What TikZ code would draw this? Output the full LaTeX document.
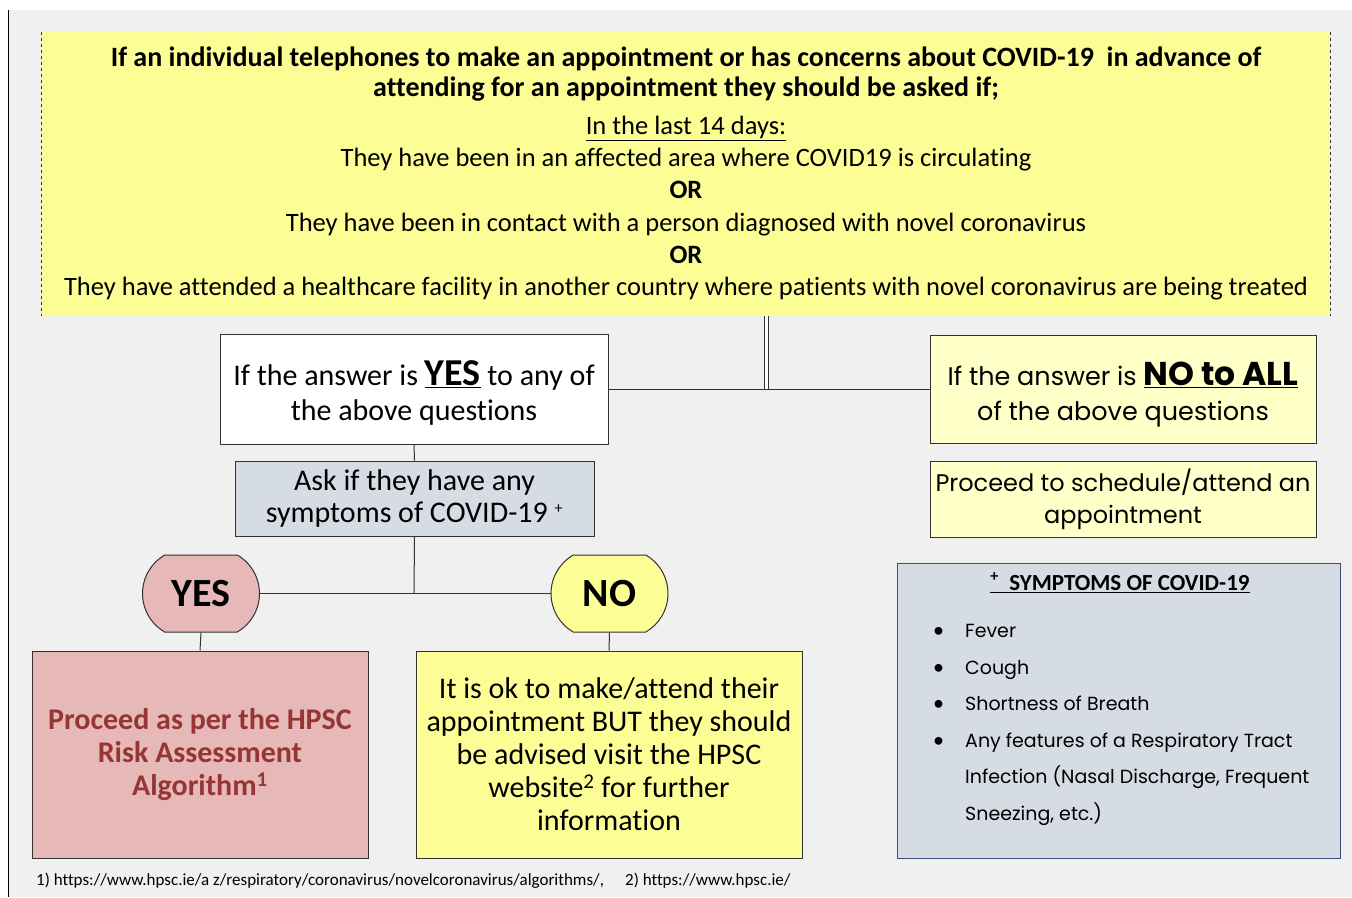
\documentclass[tikz,border=0pt]{standalone}
\usepackage{fontspec}
\setmainfont{Carlito}[Ligatures=NoCommon]
\newfontfamily\gothic{Poppins}
\usetikzlibrary{positioning, shapes.misc}

\definecolor{bggray}{RGB}{240,240,240}
\definecolor{qyellow}{RGB}{253,253,150}
\definecolor{paleyellow}{RGB}{255,255,200}
\definecolor{rosepink}{RGB}{230,184,183}
\definecolor{greyblue}{RGB}{214,220,228}
\definecolor{darkred}{RGB}{150,54,52}
\definecolor{framegray}{RGB}{50,50,50}
\definecolor{frameblue}{RGB}{60,80,120}

\tikzset{
  box/.style={draw=framegray, line width=1pt, align=center, inner sep=2pt},
  answerbox/.style={box, minimum width=388, minimum height=110},
  oval/.style={box, rounded rectangle, rounded rectangle arc length=120,
    minimum width=121, minimum height=77, font=\fontsize{40}{40}\selectfont\bfseries},
  resultbox/.style={box, minimum height=207, font=\fontsize{30}{33}\selectfont},
  link/.style={draw=framegray, line width=1pt},
}
\newcommand{\dotitem}{\makebox[32pt][l]{\normalfont\fontsize{22}{22}\selectfont\textbullet}}

\begin{document}
\begin{tikzpicture}[x=1pt, y=-1pt]
  % background
  \fill[white] (0,0) rectangle (1352,897);
  \fill[bggray] (8,10) rectangle (1352,897);
  \draw[line width=1pt] (8,10) -- (8,897);

  % question box
  \node[box, draw=none, fill=qyellow, minimum width=1288, minimum height=283] (ask0) at (686,173.5) {};
  \draw[framegray, dashed, line width=0.8pt] (ask0.north west) -- (ask0.south west);
  \draw[framegray, dashed, line width=0.8pt] (ask0.north east) -- (ask0.south east);
  \node[align=center, inner sep=0pt, font=\fontsize{28}{30}\selectfont\bfseries] (asktitle) at (686,74) {%
    If an individual telephones to make an appointment or has concerns about COVID-19\ \ in advance of\\
    attending for an appointment they should be asked if;};
  \node[align=center, inner sep=0pt, font=\fontsize{26.5}{32.2}\selectfont] (asklist) at (686,208) {%
    \underline{In the last 14 days:}\\
    They have been in an affected area where COVID19 is circulating\\
    \textbf{OR}\\
    They have been in contact with a person diagnosed with novel coronavirus\\
    \textbf{OR}\\
    They have attended a healthcare facility in another country where patients with novel coronavirus are being treated};

  % answers
  \node[answerbox, fill=white, font=\fontsize{30}{35}\selectfont] (yesq) at (414,389) {%
    \rule{0pt}{33pt}If the answer is \underline{\fontsize{38}{38}\selectfont\bfseries YES} to any of\\
    the above questions};
  \node[answerbox, fill=paleyellow, minimum width=386, minimum height=108, font=\gothic\fontsize{25.5}{35}\selectfont] (noq) at (1123,389) {%
    \rule{0pt}{35pt}If the answer is \underline{\fontsize{33}{33}\selectfont\bfseries NO to ALL}\\
    of the above questions};
  \node[box, fill=paleyellow, minimum width=386, minimum height=76, font=\gothic\fontsize{24}{32}\selectfont] (sched) at (1123,499) {%
    Proceed to schedule/attend an\\
    appointment};
  \coordinate (split) at (766,389);
  \draw[link, double, double distance=3pt] (ask0.south -| split) -- (split);
  \draw[link] (yesq.east) -- (noq.west);

  % symptoms check
  \node[box, fill=greyblue, minimum width=359, minimum height=75, font=\fontsize{30}{32}\selectfont] (symq) at (414.5,498.5) {%
    Ask if they have any\\
    symptoms of COVID-19 \textsuperscript{\fontsize{16}{16}\selectfont +}};
  \draw[link] (yesq.south) -- (symq.north);

  \node[oval, fill=rosepink] (yes) at (201,593.5) {YES};
  \node[oval, fill=qyellow] (no) at (609.5,593.5) {NO};
  \coordinate (fork) at (414,593.5);
  \draw[link] (symq.south) -- (fork);
  \draw[link] (yes.east) -- (no.west);

  % outcomes
  \node[resultbox, fill=rosepink, minimum width=336, text=darkred, font=\fontsize{30}{33}\selectfont\bfseries] (risk) at (200,754.5) {%
    Proceed as per the HPSC\\
    Risk Assessment\\
    Algorithm\textsuperscript{1}};
  \node[resultbox, fill=qyellow, minimum width=386] (okay) at (609,754.5) {%
    It is ok to make/attend their\\
    appointment BUT they should\\
    be advised visit the HPSC\\
    website\textsuperscript{2} for further\\
    information};
  \draw[link] (yes.south) -- (risk.north);
  \draw[link] (no.south) -- (okay.north);

  % symptom list
  \node[box, draw=frameblue, fill=greyblue, minimum width=443, minimum height=295] (list) at (1118.5,710.5) {};
  \node[font=\fontsize{23}{23}\selectfont\bfseries] (listhead) at (1120,583) {\underline{\textsuperscript{+}\ \ SYMPTOMS OF COVID-19}};
  \node[anchor=north west, align=left, inner sep=0pt, font=\gothic\fontsize{19}{36.6}\selectfont] (items) at (933,624) {%
    \dotitem Fever\\
    \dotitem Cough\\
    \dotitem Shortness of Breath\\
    \dotitem Any features of a Respiratory Tract\\
    \hspace*{32pt}Infection (Nasal Discharge, Frequent\\
    \hspace*{32pt}Sneezing, etc.)};

  % footnotes
  \node[anchor=west, inner sep=0pt, font=\fontsize{17}{17}\selectfont] (refone) at (36,881) {1) https://www.hpsc.ie/a z/respiratory/coronavirus/novelcoronavirus/algorithms/,};
  \node[anchor=west, inner sep=0pt, font=\fontsize{17}{17}\selectfont] (reftwo) at (625,881) {2) https://www.hpsc.ie/};
\end{tikzpicture}
\end{document}
